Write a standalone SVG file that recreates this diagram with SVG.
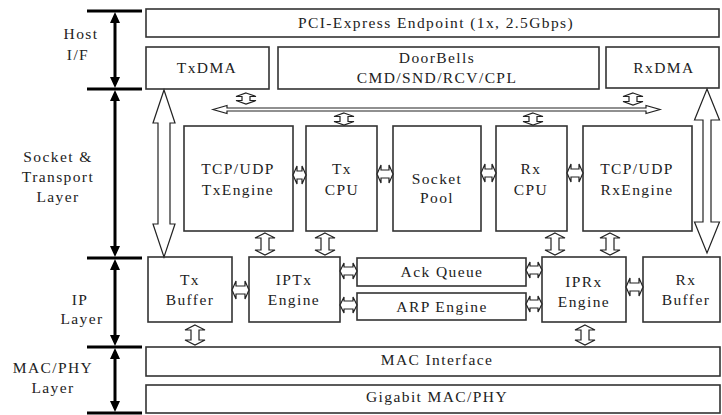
<svg xmlns="http://www.w3.org/2000/svg" width="722" height="415" viewBox="0 0 722 415">
<style>
.bx{fill:#fff;stroke:#333;stroke-width:1.6}
.ar{fill:#fff;stroke:#222;stroke-width:1.2}
text{font-family:'Liberation Serif','Times New Roman',serif;font-size:15.5px;fill:#222;text-anchor:middle;letter-spacing:1.4px}
.lay{stroke:#000;stroke-width:3}
.ah{fill:#000}
</style>
<rect width="722" height="415" fill="#fff"/>
<g id="layers">
<line class="lay" x1="87" y1="11" x2="142" y2="11"/>
<line class="lay" x1="87" y1="89" x2="142" y2="89"/>
<line class="lay" x1="87" y1="258" x2="142" y2="258"/>
<line class="lay" x1="87" y1="347" x2="142" y2="347"/>
<line class="lay" x1="87" y1="413" x2="142" y2="413"/>
<line class="lay" x1="115" y1="20" x2="115" y2="80"/>
<line class="lay" x1="115" y1="98" x2="115" y2="249"/>
<line class="lay" x1="115" y1="267" x2="115" y2="338"/>
<line class="lay" x1="115" y1="356" x2="115" y2="404"/>
<path class="ah" d="M115,12 L120,23 L110,23 Z M115,88 L120,77 L110,77 Z M115,90 L120,101 L110,101 Z M115,257 L120,246 L110,246 Z M115,259 L120,270 L110,270 Z M115,346 L120,335 L110,335 Z M115,348 L120,359 L110,359 Z M115,412 L120,401 L110,401 Z"/>
<text x="81" y="39">Host</text>
<text x="78" y="60">I/F</text>
<text x="58" y="162">Socket &amp;</text>
<text x="58" y="182">Transport</text>
<text x="58" y="202">Layer</text>
<text x="80" y="305">IP</text>
<text x="82" y="324">Layer</text>
<text x="53" y="373">MAC/PHY</text>
<text x="53" y="393">Layer</text>
</g>
<g id="pci"><rect class="bx" x="146" y="9" width="573" height="28"/><text x="436" y="28">PCI-Express Endpoint (1x, 2.5Gbps)</text></g>
<g id="txdma"><rect class="bx" x="146" y="47" width="123" height="42"/><text x="207" y="73">TxDMA</text></g>
<g id="doorbells"><rect class="bx" x="278" y="47" width="321" height="42"/><text x="437" y="63">DoorBells</text><text x="437" y="83">CMD/SND/RCV/CPL</text></g>
<g id="rxdma"><rect class="bx" x="606" y="47" width="113" height="41"/><text x="664" y="73">RxDMA</text></g>
<g id="txengine"><rect class="bx" x="184" y="126" width="109" height="105"/><text x="238" y="174">TCP/UDP</text><text x="238" y="195">TxEngine</text></g>
<g id="txcpu"><rect class="bx" x="306" y="126" width="71" height="105"/><text x="342" y="174">Tx</text><text x="342" y="195">CPU</text></g>
<g id="socketpool"><rect class="bx" x="393" y="126" width="88" height="105"/><text x="437" y="184">Socket</text><text x="437" y="203">Pool</text></g>
<g id="rxcpu"><rect class="bx" x="496" y="126" width="71" height="105"/><text x="531" y="174">Rx</text><text x="531" y="195">CPU</text></g>
<g id="rxengine"><rect class="bx" x="583" y="126" width="109" height="105"/><text x="637" y="174">TCP/UDP</text><text x="637" y="195">RxEngine</text></g>
<g id="txbuffer"><rect class="bx" x="148" y="257" width="84" height="65"/><text x="190" y="285">Tx</text><text x="190" y="305">Buffer</text></g>
<g id="iptx"><rect class="bx" x="249" y="257" width="91" height="65"/><text x="294" y="285">IPTx</text><text x="294" y="305">Engine</text></g>
<g id="ackqueue"><rect class="bx" x="357" y="258" width="169" height="28"/><text x="442" y="277">Ack Queue</text></g>
<g id="arpengine"><rect class="bx" x="357" y="293" width="169" height="27"/><text x="442" y="312">ARP Engine</text></g>
<g id="iprx"><rect class="bx" x="542" y="257" width="84" height="65"/><text x="584" y="287">IPRx</text><text x="584" y="307">Engine</text></g>
<g id="rxbuffer"><rect class="bx" x="643" y="257" width="77" height="65"/><text x="686" y="285">Rx</text><text x="686" y="305">Buffer</text></g>
<g id="macif"><rect class="bx" x="146" y="347" width="574" height="29"/><text x="437" y="365">MAC Interface</text></g>
<g id="gmac"><rect class="bx" x="146" y="385" width="574" height="28"/><text x="437" y="402">Gigabit MAC/PHY</text></g>
<g id="connectors">
<path class="ar" d="M213,109.5 L227,105.5 L227,108 L646,108 L646,105.5 L660,109.5 L646,113.5 L646,111 L227,111 L227,113.5 Z"/>
<path class="ar" d="M164,90 L175,123 L170,123 L170,224 L175,224 L164,257 L153,224 L158,224 L158,123 L153,123 Z"/>
<path class="ar" d="M707,89 L719.5,120 L711,120 L711,222 L719.5,222 L707,253 L694.5,222 L703,222 L703,120 L694.5,120 Z"/>
<path class="ar" d="M246,93 L256,96.5 L250,96.5 L250,100.5 L256,100.5 L246,104 L236,100.5 L242,100.5 L242,96.5 L236,96.5 Z"/>
<path class="ar" d="M633,93 L643,96.5 L637,96.5 L637,101.5 L643,101.5 L633,105 L623,101.5 L629,101.5 L629,96.5 L623,96.5 Z"/>
<path class="ar" d="M344,113 L354,116.5 L348,116.5 L348,121.5 L354,121.5 L344,125 L334,121.5 L340,121.5 L340,116.5 L334,116.5 Z"/>
<path class="ar" d="M533,113 L543,116.5 L537,116.5 L537,121.5 L543,121.5 L533,125 L523,121.5 L529,121.5 L529,116.5 L523,116.5 Z"/>
<path class="ar" d="M265,233 L275,238 L269,238 L269,250 L275,250 L265,255 L255,250 L261,250 L261,238 L255,238 Z"/>
<path class="ar" d="M325,233 L335,238 L329,238 L329,250 L335,250 L325,255 L315,250 L321,250 L321,238 L315,238 Z"/>
<path class="ar" d="M555,233 L565,238 L559,238 L559,250 L565,250 L555,255 L545,250 L551,250 L551,238 L545,238 Z"/>
<path class="ar" d="M610,233 L620,238 L614,238 L614,250 L620,250 L610,255 L600,250 L606,250 L606,238 L600,238 Z"/>
<path class="ar" d="M195,325 L205,330 L199,330 L199,340 L205,340 L195,345 L185,340 L191,340 L191,330 L185,330 Z"/>
<path class="ar" d="M585,325 L595,330 L589,330 L589,340 L595,340 L585,345 L575,340 L581,340 L581,330 L575,330 Z"/>
<path class="ar" d="M293,175 L297,166 L297,171 L302,171 L302,166 L306,175 L302,184 L302,179 L297,179 L297,184 Z"/>
<path class="ar" d="M377,174 L381,165 L381,170 L389,170 L389,165 L393,174 L389,183 L389,178 L381,178 L381,183 Z"/>
<path class="ar" d="M481,173 L485,164 L485,169 L492,169 L492,164 L496,173 L492,182 L492,177 L485,177 L485,182 Z"/>
<path class="ar" d="M567,173 L571,164 L571,169 L579,169 L579,164 L583,173 L579,182 L579,177 L571,177 L571,182 Z"/>
<path class="ar" d="M232,290 L236,281 L236,286 L245,286 L245,281 L249,290 L245,299 L245,294 L236,294 L236,299 Z"/>
<path class="ar" d="M340,271 L344,263 L344,267 L353,267 L353,263 L357,271 L353,279 L353,275 L344,275 L344,279 Z"/>
<path class="ar" d="M340,305 L344,297 L344,301 L353,301 L353,297 L357,305 L353,313 L353,309 L344,309 L344,313 Z"/>
<path class="ar" d="M526,270 L530,262 L530,266 L538,266 L538,262 L542,270 L538,278 L538,274 L530,274 L530,278 Z"/>
<path class="ar" d="M526,304 L530,296 L530,300 L538,300 L538,296 L542,304 L538,312 L538,308 L530,308 L530,312 Z"/>
<path class="ar" d="M626,287 L630,278 L630,283 L639,283 L639,278 L643,287 L639,296 L639,291 L630,291 L630,296 Z"/>
</g>
</svg>
